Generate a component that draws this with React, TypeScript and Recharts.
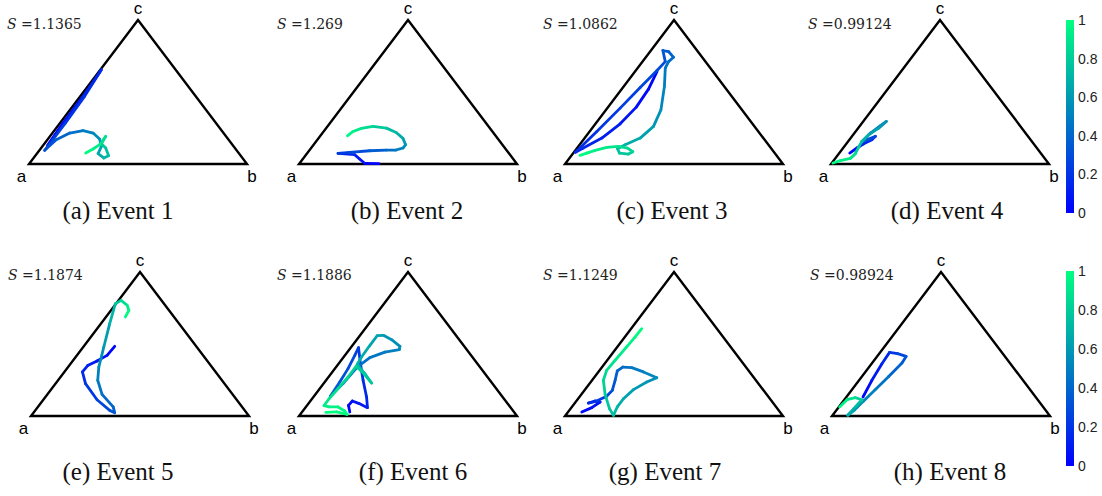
import React from 'react';
import { ScatterChart, Scatter, XAxis, YAxis, BarChart, Bar } from 'recharts';

type Pt = [number, number, number]; // [x along a->b, height toward c, normalized time]

const VERTEX_LABELS = ['a', 'b', 'c'];
const PANEL_TITLES = ['(a) Event 1', '(b) Event 2', '(c) Event 3', '(d) Event 4', '(e) Event 5', '(f) Event 6', '(g) Event 7', '(h) Event 8'];
const S_VALUES = ['1.1365', '1.269', '1.0862', '0.99124', '1.1874', '1.1886', '1.1249', '0.98924'];
const COLORBAR_TICKS = [0, 0.2, 0.4, 0.6, 0.8, 1];
const TRIANGLE_OUTLINE = [{ x: 0.5, y: 0 }, { x: 1, y: 0 }, { x: 0.5, y: 1 }, { x: 0, y: 0 }, { x: 0.5, y: 0 }];

const traj1: Pt[] = [
  [0.085, 0.13, 0.0], [0.156, 0.284, 0.04], [0.248, 0.469, 0.08], [0.332, 0.654, 0.13],
  [0.255, 0.47, 0.18], [0.165, 0.28, 0.23], [0.08, 0.11, 0.28], [0.072, 0.095, 0.3],
  [0.125, 0.169, 0.36], [0.187, 0.215, 0.42], [0.248, 0.231, 0.47], [0.294, 0.215, 0.52],
  [0.324, 0.173, 0.57], [0.332, 0.122, 0.62], [0.317, 0.072, 0.66], [0.343, 0.042, 0.7],
  [0.365, 0.058, 0.73], [0.352, 0.111, 0.77], [0.332, 0.141, 0.8], [0.352, 0.192, 0.86],
  [0.324, 0.134, 0.9], [0.294, 0.104, 0.95], [0.26, 0.076, 1.0],
];
const traj2: Pt[] = [
  [0.367, 0.002, 0.0], [0.301, 0.005, 0.04], [0.278, 0.035, 0.08], [0.255, 0.065, 0.12],
  [0.179, 0.074, 0.2], [0.232, 0.081, 0.26], [0.324, 0.092, 0.33], [0.401, 0.097, 0.4],
  [0.443, 0.097, 0.46], [0.477, 0.111, 0.52], [0.489, 0.134, 0.58], [0.477, 0.178, 0.64],
  [0.446, 0.219, 0.7], [0.401, 0.249, 0.76], [0.339, 0.261, 0.82], [0.286, 0.247, 0.88],
  [0.248, 0.226, 0.94], [0.222, 0.196, 1.0],
];
const traj3: Pt[] = [
  [0.422, 0.642, 0.0], [0.383, 0.52, 0.03], [0.327, 0.395, 0.06], [0.253, 0.279, 0.09],
  [0.169, 0.18, 0.12], [0.084, 0.111, 0.15], [0.048, 0.081, 0.17], [0.146, 0.226, 0.2],
  [0.253, 0.388, 0.23], [0.345, 0.531, 0.26], [0.422, 0.649, 0.28], [0.46, 0.711, 0.31],
  [0.449, 0.788, 0.34], [0.475, 0.781, 0.37], [0.498, 0.741, 0.4], [0.475, 0.711, 0.43],
  [0.46, 0.665, 0.46], [0.456, 0.538, 0.5], [0.44, 0.376, 0.55], [0.406, 0.261, 0.6],
  [0.345, 0.18, 0.65], [0.276, 0.134, 0.7], [0.241, 0.106, 0.73], [0.25, 0.076, 0.76],
  [0.291, 0.069, 0.79], [0.311, 0.085, 0.82], [0.287, 0.111, 0.85], [0.245, 0.122, 0.88],
  [0.192, 0.115, 0.91], [0.138, 0.095, 0.94], [0.1, 0.076, 0.97], [0.069, 0.06, 1.0],
];
const traj4: Pt[] = [
  [0.086, 0.076, 0.0], [0.119, 0.111, 0.06], [0.15, 0.141, 0.12], [0.188, 0.169, 0.18],
  [0.204, 0.192, 0.24], [0.173, 0.173, 0.3], [0.142, 0.157, 0.36], [0.181, 0.215, 0.42],
  [0.227, 0.266, 0.5], [0.254, 0.296, 0.56], [0.219, 0.249, 0.62], [0.173, 0.203, 0.68],
  [0.142, 0.157, 0.73], [0.127, 0.118, 0.78], [0.112, 0.072, 0.84], [0.089, 0.039, 0.9],
  [0.043, 0.023, 0.95], [0.009, 0.007, 1.0],
];
const traj5: Pt[] = [
  [0.384, 0.484, 0.0], [0.349, 0.421, 0.04], [0.303, 0.382, 0.08], [0.26, 0.35, 0.12],
  [0.236, 0.306, 0.16], [0.25, 0.225, 0.2], [0.303, 0.113, 0.25], [0.361, 0.039, 0.3],
  [0.384, 0.023, 0.34], [0.377, 0.063, 0.38], [0.326, 0.15, 0.43], [0.306, 0.248, 0.48],
  [0.311, 0.34, 0.53], [0.334, 0.479, 0.59], [0.361, 0.641, 0.66], [0.387, 0.78, 0.74],
  [0.413, 0.803, 0.82], [0.441, 0.769, 0.9], [0.449, 0.734, 0.95], [0.433, 0.688, 1.0],
];
const traj6: Pt[] = [
  [0.233, 0.028, 0.0], [0.227, 0.074, 0.03], [0.245, 0.104, 0.06], [0.276, 0.086, 0.09],
  [0.314, 0.058, 0.12], [0.31, 0.132, 0.15], [0.294, 0.248, 0.18], [0.282, 0.363, 0.21],
  [0.273, 0.475, 0.24], [0.256, 0.421, 0.27], [0.225, 0.329, 0.3], [0.187, 0.236, 0.33],
  [0.144, 0.137, 0.36], [0.202, 0.225, 0.39], [0.267, 0.34, 0.42], [0.325, 0.405, 0.45],
  [0.394, 0.444, 0.48], [0.46, 0.461, 0.51], [0.463, 0.484, 0.54], [0.425, 0.53, 0.57],
  [0.387, 0.56, 0.6], [0.359, 0.558, 0.63], [0.322, 0.484, 0.66], [0.287, 0.41, 0.69],
  [0.267, 0.359, 0.71], [0.302, 0.294, 0.74], [0.333, 0.229, 0.77], [0.3, 0.29, 0.79],
  [0.262, 0.345, 0.81], [0.225, 0.271, 0.84], [0.179, 0.19, 0.87], [0.138, 0.12, 0.9],
  [0.115, 0.072, 0.92], [0.138, 0.063, 0.94], [0.179, 0.063, 0.96], [0.21, 0.035, 0.97],
  [0.221, 0.012, 0.98], [0.172, 0.028, 0.99], [0.123, 0.025, 1.0],
];
const traj7: Pt[] = [
  [0.077, 0.028, 0.0], [0.123, 0.058, 0.05], [0.161, 0.097, 0.1], [0.138, 0.104, 0.13],
  [0.107, 0.09, 0.16], [0.145, 0.104, 0.2], [0.191, 0.137, 0.25], [0.217, 0.178, 0.3],
  [0.23, 0.248, 0.34], [0.24, 0.313, 0.38], [0.265, 0.34, 0.42], [0.306, 0.336, 0.46],
  [0.36, 0.306, 0.5], [0.421, 0.266, 0.54], [0.375, 0.236, 0.58], [0.314, 0.183, 0.62],
  [0.268, 0.12, 0.66], [0.24, 0.063, 0.7], [0.222, 0.005, 0.74], [0.204, 0.051, 0.77],
  [0.184, 0.15, 0.8], [0.176, 0.248, 0.83], [0.191, 0.317, 0.86], [0.23, 0.387, 0.9],
  [0.28, 0.475, 0.94], [0.322, 0.549, 0.97], [0.352, 0.606, 1.0],
];
const traj8: Pt[] = [
  [0.142, 0.132, 0.0], [0.183, 0.248, 0.06], [0.229, 0.363, 0.12], [0.264, 0.442, 0.18],
  [0.301, 0.433, 0.24], [0.34, 0.414, 0.3], [0.321, 0.368, 0.36], [0.26, 0.275, 0.42],
  [0.198, 0.183, 0.48], [0.145, 0.104, 0.54], [0.102, 0.039, 0.6], [0.072, 0.005, 0.65],
  [0.107, 0.063, 0.72], [0.137, 0.113, 0.78], [0.107, 0.127, 0.85], [0.069, 0.113, 0.92],
  [0.035, 0.063, 1.0],
];
const TRAJECTORIES = [traj1, traj2, traj3, traj4, traj5, traj6, traj7, traj8];

// ---- layout (pixels) ----
const TRI_W = 218;
const TRI_H = 144;
const M = 10;
const PANEL_LEFT = [29, 299, 565, 831, 31, 299, 565, 832];
const PANEL_BASE = [164, 164, 164, 164, 416, 416, 416, 416];
const S_LEFT = [7, 277, 543, 808, 8, 277, 543, 810];
const S_BASE = [28.5, 28.5, 28.5, 28.5, 280, 280, 280, 280];
const TITLE_X = [118, 407, 672, 947, 118, 413, 665, 950];
const TITLE_BASE = [219, 219, 219, 219, 480, 480, 480, 480];
const CBAR_TOP = [20, 271];
const CBAR_H = [193, 195];

const winter = (t: number) =>
  `rgb(0, ${Math.round(255 * t)}, ${Math.round(255 - 127.5 * t)})`;

const Empty = () => <g />;

const CbTick = (props: any) => (
  <text
    x={props.x}
    y={props.y}
    dy={5}
    textAnchor="start"
    fontSize={14}
    fontFamily="Liberation Sans, Arial, sans-serif"
    fill="#222"
  >
    {String(props.payload.value)}
  </text>
);

function Ternary({ idx }: { idx: number }) {
  const traj = TRAJECTORIES[idx];
  const segs = [] as { data: { x: number; y: number }[]; color: string }[];
  for (let i = 0; i < traj.length - 1; i++) {
    const p = traj[i];
    const q = traj[i + 1];
    segs.push({
      data: [{ x: p[0], y: p[1] }, { x: q[0], y: q[1] }],
      color: winter((p[2] + q[2]) / 2),
    });
  }
  return (
    <div style={{ position: 'absolute', left: PANEL_LEFT[idx] - M, top: PANEL_BASE[idx] - TRI_H - M }}>
      <ScatterChart width={TRI_W + 2 * M} height={TRI_H + 2 * M} margin={{ top: M, right: M, bottom: M, left: M }}>
        <XAxis type="number" dataKey="x" domain={[0, 1]} hide />
        <YAxis type="number" dataKey="y" domain={[0, 1]} hide />
        <Scatter
          data={TRIANGLE_OUTLINE}
          line={{ stroke: '#000', strokeWidth: 2.4, strokeLinejoin: 'miter' }}
          shape={Empty}
          isAnimationActive={false}
        />
        {segs.map((s, i) => (
          <Scatter
            key={i}
            data={s.data}
            line={{ stroke: s.color, strokeWidth: 2.8, strokeLinecap: 'round', strokeLinejoin: 'round' }}
            shape={Empty}
            isAnimationActive={false}
          />
        ))}
      </ScatterChart>
    </div>
  );
}

function ColorBar({ row }: { row: number }) {
  const data = [{ name: 'cb', v: 1 }];
  const pad = 10;
  return (
    <div style={{ position: 'absolute', left: 1066, top: CBAR_TOP[row] - pad }}>
      <BarChart width={8 + 36} height={CBAR_H[row] + 2 * pad} data={data} margin={{ top: pad, bottom: pad, left: 0, right: 0 }} barCategoryGap={0}>
        <XAxis dataKey="name" hide />
        <YAxis
          orientation="right"
          type="number"
          domain={[0, 1]}
          ticks={COLORBAR_TICKS}
          width={36}
          axisLine={false}
          tickLine={false}
          tickSize={2}
          tickMargin={2}
          tick={<CbTick />}
        />
        <Bar dataKey="v" fill="url(#winterGrad)" isAnimationActive={false} />
      </BarChart>
    </div>
  );
}

export default function App() {
  const sans = 'Liberation Sans, Arial, sans-serif';
  return (
    <div style={{ position: 'absolute', left: 0, top: 0, width: 1102, height: 496, background: '#fff', overflow: 'hidden' }}>
      <svg width={0} height={0} style={{ position: 'absolute' }}>
        <defs>
          <linearGradient id="winterGrad" x1="0" y1="1" x2="0" y2="0">
            <stop offset="0" stopColor="#0000FF" />
            <stop offset="1" stopColor="#00FF80" />
          </linearGradient>
        </defs>
      </svg>
      {TRAJECTORIES.map((_, i) => (
        <Ternary key={i} idx={i} />
      ))}
      <ColorBar row={0} />
      <ColorBar row={1} />
      <svg width={1102} height={496} style={{ position: 'absolute', left: 0, top: 0, pointerEvents: 'none' }}>
        {PANEL_TITLES.map((title, i) => {
          const ax = PANEL_LEFT[i];
          const by = PANEL_BASE[i];
          return (
            <g key={i}>
              <text x={ax - 7.5} y={by + 18} textAnchor="middle" fontFamily={sans} fontSize={17} fill="#000">{VERTEX_LABELS[0]}</text>
              <text x={ax + TRI_W + 5} y={by + 18} textAnchor="middle" fontFamily={sans} fontSize={17} fill="#000">{VERTEX_LABELS[1]}</text>
              <text x={ax + TRI_W / 2} y={by - TRI_H - 6.5} textAnchor="middle" fontFamily={sans} fontSize={17} fill="#000">{VERTEX_LABELS[2]}</text>
              <text x={S_LEFT[i]} y={S_BASE[i]} fontFamily="DejaVu Serif, serif" fontSize={14} fill="#222">
                <tspan fontStyle="italic">S</tspan>
                <tspan>{' =' + S_VALUES[i]}</tspan>
              </text>
              <text x={TITLE_X[i]} y={TITLE_BASE[i]} textAnchor="middle" fontFamily="Liberation Serif, Times New Roman, serif" fontSize={25} fill="#111">{title}</text>
            </g>
          );
        })}
      </svg>
    </div>
  );
}
